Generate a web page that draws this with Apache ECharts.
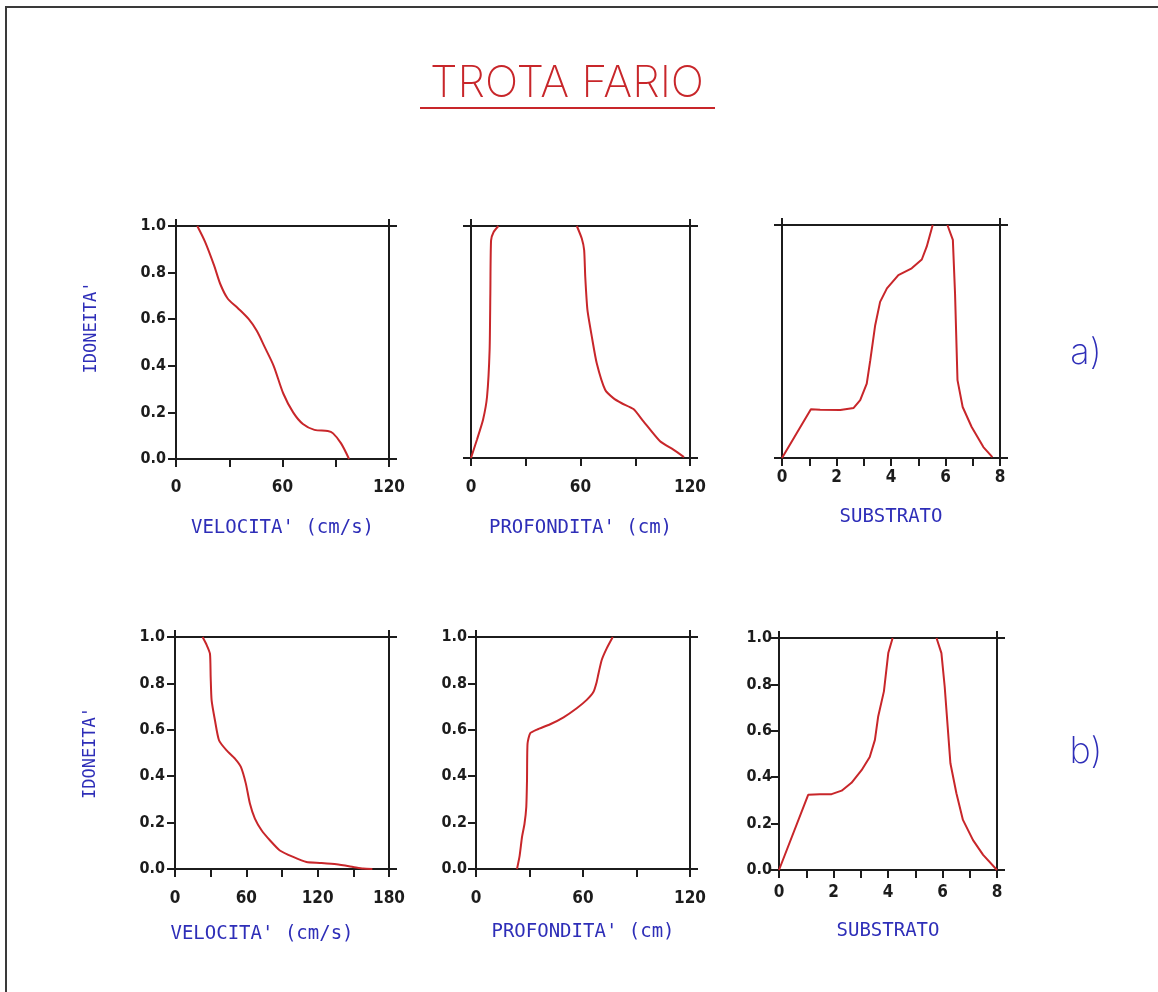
<!DOCTYPE html>
<html>
<head>
<meta charset="utf-8">
<title>Trota fario</title>
<script src="https://cdn.jsdelivr.net/npm/echarts@6/dist/echarts.min.js"></script>
<style>
  html, body { margin: 0; padding: 0; background: #fff; }
  #main { width: 1158px; height: 992px; }
</style>
</head>
<body>
<div id="main"></div>
<script>
// riga a) - curve di idoneita' [x, idoneita']
const velA = [[12, 1], [16.5, 0.93], [21.5, 0.83], [25, 0.75], [29, 0.69], [34.5, 0.65], [41, 0.6],
  [45.5, 0.55], [50, 0.48], [55, 0.4], [60.5, 0.28], [66, 0.2], [71.5, 0.15], [78, 0.125],
  [85.5, 0.12], [88.5, 0.11], [93, 0.067], [97.5, 0]];
const profA1 = [[0, 0], [3.3, 0.08], [6.6, 0.165], [8.8, 0.265], [10.2, 0.466], [10.6, 0.71],
  [11, 0.938], [12.4, 0.974], [15, 1]];
const profA2 = [[58, 1], [60.7, 0.946], [62, 0.896], [62.6, 0.781], [63.8, 0.638], [66.2, 0.523],
  [68.9, 0.408], [73.5, 0.294], [78, 0.258], [82.6, 0.236], [89, 0.211], [94.5, 0.158],
  [103.6, 0.072], [110.9, 0.036], [116.7, 0.004]];
const subA1 = [[0, 0], [1.06, 0.209], [1.4, 0.207], [2.14, 0.206], [2.63, 0.215], [2.87, 0.248],
  [3.11, 0.319], [3.24, 0.42], [3.42, 0.57], [3.6, 0.67], [3.85, 0.728], [4.27, 0.785],
  [4.76, 0.814], [5.13, 0.852], [5.31, 0.907], [5.53, 1]];
const subA2 = [[6.07, 1], [6.27, 0.936], [6.35, 0.706], [6.44, 0.334], [6.63, 0.219], [6.96, 0.133],
  [7.39, 0.047], [7.72, 0.004]];

// riga b)
const velB = [[23.2, 1], [26.6, 0.966], [29.4, 0.928], [30, 0.828], [30.8, 0.727], [33.6, 0.641],
  [37, 0.555], [43.4, 0.511], [50.4, 0.476], [55.4, 0.44], [59.6, 0.368], [63, 0.282],
  [67.2, 0.217], [72.8, 0.167], [79.8, 0.124], [88.2, 0.08], [99.4, 0.052], [110.6, 0.03],
  [121.8, 0.026], [135.8, 0.02], [149.8, 0.009], [158.2, 0.002], [166, 0]];
const profB = [[23, 0], [24.5, 0.059], [25.8, 0.138], [27.2, 0.195], [28.2, 0.267], [28.6, 0.382],
  [28.9, 0.54], [30.4, 0.585], [34.2, 0.601], [41.6, 0.624], [49.1, 0.654], [56.5, 0.693],
  [62.1, 0.729], [65.9, 0.764], [67.7, 0.807], [68.7, 0.843], [70.5, 0.901], [73.3, 0.951],
  [76.7, 1]];
const subB1 = [[0, 0], [1.07, 0.324], [1.5, 0.327], [1.93, 0.327], [2.3, 0.342], [2.66, 0.376],
  [3.03, 0.43], [3.33, 0.487], [3.52, 0.561], [3.64, 0.662], [3.85, 0.77], [4.01, 0.935],
  [4.17, 1]];
const subB2 = [[5.78, 1], [5.96, 0.935], [6.08, 0.791], [6.29, 0.46], [6.51, 0.331], [6.75, 0.216],
  [7.12, 0.129], [7.49, 0.065], [8, 0]];

// etichette degli assi x
const labels120 = [0, 60, 120];
const labels180 = [0, 60, 120, 180];
const labelsSub = [0, 2, 4, 6, 8];

const RED = '#c8262a', BLUE = '#2e2eb8', INK = '#1c1c1c';
const NUM_FONT = "'DejaVu Sans Condensed', 'DejaVu Sans', sans-serif";
const CAD_FONT = "'DejaVu Sans Mono', monospace";

const panels = [
  { box: [176, 226, 213, 233], xMax: 120, xStep: 30, xLabels: labels120, xMargin: 20, yLabels: true, yMargin: 10,
    xName: "VELOCITA' (cm/s)", nameGap: 60, namePad: [0, 0, 0, 0], yName: true, yNamePad: [0, 0, 0, 30],
    smooth: 0.3, lines: [velA] },
  { box: [471, 226, 219, 232], xMax: 120, xStep: 30, xLabels: labels120, xMargin: 21, yLabels: false,
    xName: "PROFONDITA' (cm)", nameGap: 61, namePad: [0, 0, 0, 0], smooth: 0.2, lines: [profA1, profA2] },
  { box: [782, 225, 218, 233], xMax: 8, xStep: 1, xLabels: labelsSub, xMargin: 11, yLabels: false,
    xName: 'SUBSTRATO', nameGap: 50, namePad: [0, 0, 0, 0], smooth: 0, lines: [subA1, subA2] },
  { box: [175, 637, 214, 232], xMax: 180, xStep: 30, xLabels: labels180, xMargin: 21, yLabels: true, yMargin: 10,
    xName: "VELOCITA' (cm/s)", nameGap: 56, namePad: [0, 40, 0, 0], yName: true, yNamePad: [0, 0, 0, 0],
    smooth: 0.2, lines: [velB] },
  { box: [476, 637, 214, 232], xMax: 120, xStep: 30, xLabels: labels120, xMargin: 21, yLabels: true, yMargin: 9,
    xName: "PROFONDITA' (cm)", nameGap: 54, namePad: [0, 0, 0, 0], smooth: 0.2, lines: [profB] },
  { box: [779, 638, 218, 232], xMax: 8, xStep: 1, xLabels: labelsSub, xMargin: 14, yLabels: true, yMargin: 7,
    xName: 'SUBSTRATO', nameGap: 52, namePad: [0, 0, 0, 0], smooth: 0, lines: [subB1, subB2] }
];

const grid = [], xAxis = [], yAxis = [], series = [];
const axisLine = { show: true, onZero: false, lineStyle: { color: INK, width: 2 } };
const tick = len => ({ show: true, inside: false, length: len, lineStyle: { color: INK, width: 2 } });
const off = { show: false };

panels.forEach((p, i) => {
  grid.push({ left: p.box[0], top: p.box[1], width: p.box[2], height: p.box[3], outerBoundsMode: 'none' });

  // asse x in basso con etichette e titolo, asse x in alto solo come bordo
  xAxis.push({
    gridIndex: i, type: 'value', position: 'bottom', min: 0, max: p.xMax, interval: p.xStep,
    axisLine, axisTick: tick(8), splitLine: off,
    axisLabel: { margin: p.xMargin, color: INK, fontFamily: NUM_FONT, fontWeight: 'bold', fontSize: 17,
      formatter: v => p.xLabels.includes(v) ? String(v) : '' },
    name: p.xName, nameLocation: 'middle', nameGap: p.nameGap,
    nameTextStyle: { color: BLUE, fontFamily: CAD_FONT, fontSize: 19, padding: p.namePad }
  });
  xAxis.push({
    gridIndex: i, type: 'value', position: 'top', min: 0, max: p.xMax, interval: p.xMax,
    axisLine, axisTick: tick(7), axisLabel: off, splitLine: off
  });

  yAxis.push({
    gridIndex: i, type: 'value', position: 'left', min: 0, max: 1, interval: p.yLabels ? 0.2 : 1,
    axisLine, axisTick: tick(8), splitLine: off,
    axisLabel: p.yLabels ? { margin: p.yMargin, color: INK, fontFamily: NUM_FONT, fontWeight: 'bold', fontSize: 16,
      padding: [0, 0, 5, 0], formatter: v => v.toFixed(1) } : off,
    name: p.yName ? "IDONEITA'" : '', nameLocation: 'middle', nameGap: 76, nameRotate: 90,
    nameTextStyle: { color: BLUE, fontFamily: CAD_FONT, fontSize: 17, padding: p.yNamePad || 0 }
  });
  yAxis.push({
    gridIndex: i, type: 'value', position: 'right', min: 0, max: 1, interval: 1,
    axisLine, axisTick: tick(8), axisLabel: off, splitLine: off
  });

  p.lines.forEach(d => series.push({
    type: 'line', xAxisIndex: 2 * i, yAxisIndex: 2 * i, data: d, smooth: p.smooth,
    showSymbol: false, silent: true, lineStyle: { color: RED, width: 2 }
  }));
});

const myChart = echarts.init(document.getElementById('main'));
myChart.setOption({
  backgroundColor: '#ffffff',
  animation: false,
  grid, xAxis, yAxis, series,
  graphic: [
    { type: 'rect', silent: true, shape: { x: 6, y: 7, width: 1300, height: 1100 },
      style: { fill: 'none', stroke: '#3a3a3a', lineWidth: 2 } },
    { type: 'text', x: 567, y: 84, silent: true,
      style: { text: 'TROTA FARIO', fill: RED, font: "200 44px Inter, 'DejaVu Sans', sans-serif",
        align: 'center', verticalAlign: 'middle' } },
    { type: 'line', silent: true, shape: { x1: 420, y1: 108, x2: 715, y2: 108 },
      style: { stroke: RED, lineWidth: 2 } },
    { type: 'text', x: 1086, y: 353, silent: true,
      style: { text: 'a)', fill: BLUE, font: "200 36px Inter, 'DejaVu Sans', sans-serif",
        align: 'center', verticalAlign: 'middle' } },
    { type: 'text', x: 1086, y: 752, silent: true,
      style: { text: 'b)', fill: BLUE, font: "200 36px Inter, 'DejaVu Sans', sans-serif",
        align: 'center', verticalAlign: 'middle' } }
  ]
});
</script>
</body>
</html>
